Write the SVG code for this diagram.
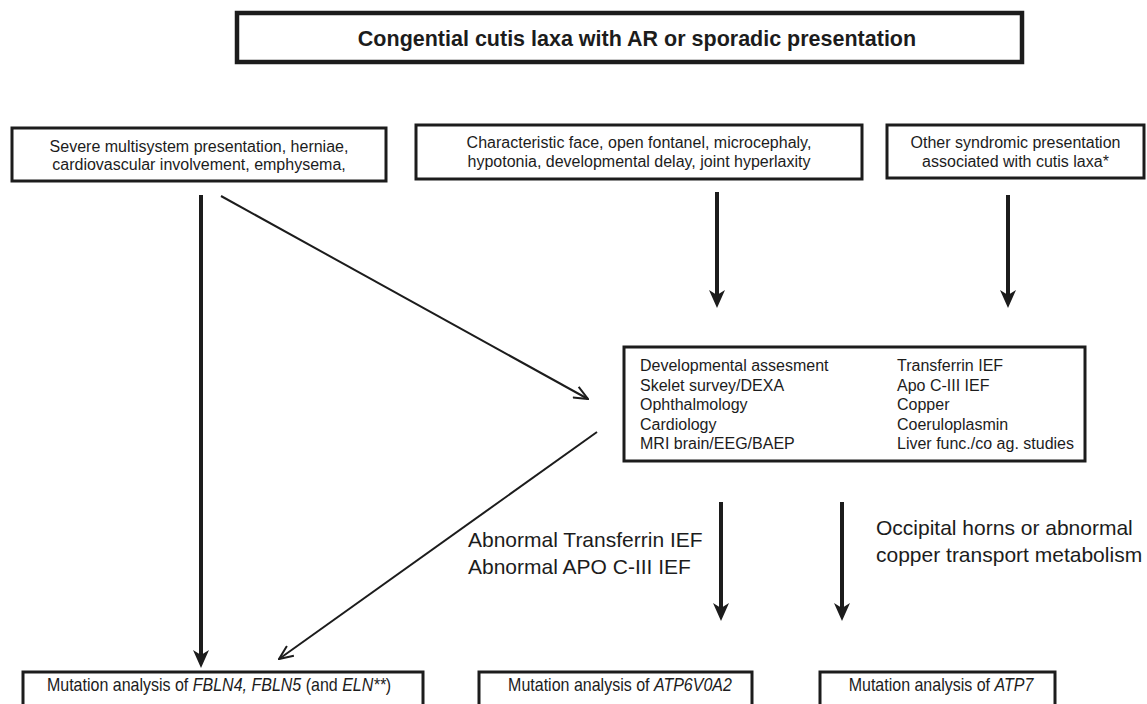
<svg xmlns="http://www.w3.org/2000/svg" width="1147" height="704" viewBox="0 0 1147 704">
<defs>
<style>
.box{fill:#fff;stroke:#1c1c1c;stroke-width:3}
.ttl{fill:#fff;stroke:#1c1c1c;stroke-width:4.5}
.t{font-family:"Liberation Sans",Arial,sans-serif;font-size:16px;fill:#1c1c1c}
.tn{font-family:"Liberation Sans",Arial,sans-serif;font-size:18px;fill:#1c1c1c;text-anchor:middle}
.tb{font-family:"Liberation Sans",Arial,sans-serif;font-size:21.5px;font-weight:bold;fill:#1c1c1c}
.lab{font-family:"Liberation Sans",Arial,sans-serif;font-size:21px;fill:#1c1c1c}
.mid{text-anchor:middle}
.i{font-style:italic}
.thick{stroke:#1c1c1c;stroke-width:4;fill:none;marker-end:url(#solid)}
.thin{stroke:#1c1c1c;stroke-width:2;fill:none;marker-end:url(#open)}
</style>
<marker id="solid" markerUnits="userSpaceOnUse" viewBox="0 0 18 16" markerWidth="18" markerHeight="16" refX="8" refY="8" orient="auto"><path d="M0,0 L18,8 L0,16 L5,8 Z" fill="#1c1c1c"/></marker>
<marker id="open" markerUnits="userSpaceOnUse" viewBox="0 0 16 14" markerWidth="16" markerHeight="14" refX="15" refY="7" orient="auto"><path d="M1,1 L15,7 L1,13" fill="none" stroke="#1c1c1c" stroke-width="2"/></marker>
</defs>
<rect width="1147" height="704" fill="#fff"/>
<g id="connectors">
<line class="thick" x1="201" y1="195" x2="201" y2="658"/>
<line class="thin" x1="221" y1="196" x2="588" y2="399"/>
<line class="thin" x1="597" y1="432" x2="279" y2="659"/>
<line class="thick" x1="717" y1="192" x2="717" y2="298"/>
<line class="thick" x1="1008" y1="195" x2="1008" y2="298"/>
<line class="thick" x1="721" y1="502" x2="721" y2="611"/>
<line class="thick" x1="842" y1="502" x2="842" y2="611"/>
<text class="lab" x="468" y="547">Abnormal Transferrin IEF</text>
<text class="lab" x="468" y="574">Abnormal APO C-III IEF</text>
<text class="lab" x="876" y="535">Occipital horns or abnormal</text>
<text class="lab" x="876" y="562">copper transport metabolism</text>
</g>
<g id="title">
<rect class="ttl" x="237" y="13" width="785" height="49"/>
<text class="tb mid" x="637" y="46">Congential cutis laxa with AR or sporadic presentation</text>
</g>
<g id="severe">
<rect class="box" x="12" y="128" width="374" height="53"/>
<text class="t mid" x="199" y="152">Severe multisystem presentation, herniae,</text>
<text class="t mid" x="199" y="170">cardiovascular involvement, emphysema,</text>
</g>
<g id="characteristic">
<rect class="box" x="416" y="125" width="446" height="54"/>
<text class="t mid" x="639" y="148">Characteristic face, open fontanel, microcephaly,</text>
<text class="t mid" x="639" y="167">hypotonia, developmental delay, joint hyperlaxity</text>
</g>
<g id="other">
<rect class="box" x="887" y="125" width="257" height="53"/>
<text class="t mid" x="1015.5" y="148">Other syndromic presentation</text>
<text class="t mid" x="1015.5" y="167">associated with cutis laxa*</text>
</g>
<g id="workup">
<rect class="box" x="624" y="347" width="461" height="114"/>
<text class="t" x="640" y="371">Developmental assesment</text>
<text class="t" x="640" y="390.5">Skelet survey/DEXA</text>
<text class="t" x="640" y="410">Ophthalmology</text>
<text class="t" x="640" y="429.5">Cardiology</text>
<text class="t" x="640" y="449">MRI brain/EEG/BAEP</text>
<text class="t" x="897" y="371">Transferrin IEF</text>
<text class="t" x="897" y="390.5">Apo C-III IEF</text>
<text class="t" x="897" y="410">Copper</text>
<text class="t" x="897" y="429.5">Coeruloplasmin</text>
<text class="t" x="897" y="449">Liver func./co ag. studies</text>
</g>
<g id="fbln">
<rect class="box" x="23" y="672" width="400" height="45"/>
<text class="tn" transform="translate(219,691) scale(0.89,1)">Mutation analysis of <tspan class="i">FBLN4, FBLN5</tspan> (and <tspan class="i">ELN**</tspan>)</text>
</g>
<g id="atp6v0a2">
<rect class="box" x="479" y="672" width="273" height="45"/>
<text class="tn" transform="translate(620,691) scale(0.89,1)">Mutation analysis of <tspan class="i">ATP6V0A2</tspan></text>
</g>
<g id="atp7">
<rect class="box" x="820" y="672" width="235" height="45"/>
<text class="tn" transform="translate(941,691) scale(0.89,1)">Mutation analysis of <tspan class="i">ATP7</tspan></text>
</g>
</svg>
